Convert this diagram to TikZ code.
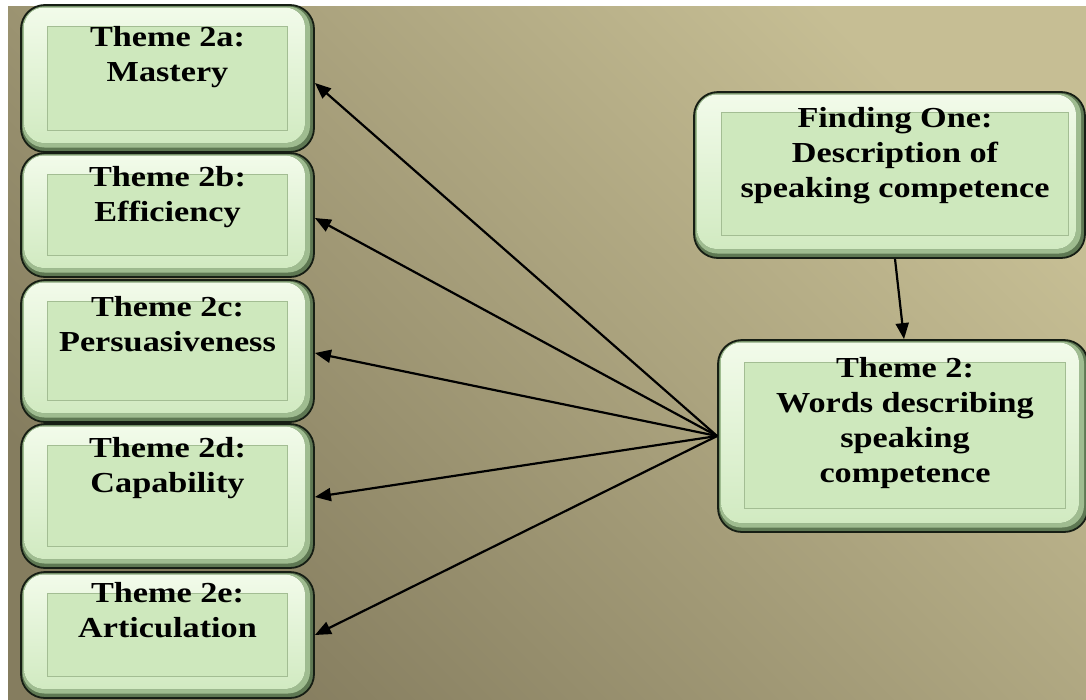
\documentclass[tikz,border=0pt]{standalone}
\usepackage{fontspec}
\newfontfamily\boxfont[FakeStretch=1.18]{Liberation Serif}
\usetikzlibrary{calc,arrows.meta}
\definecolor{bgLight}{HTML}{C6BE94}
\definecolor{bgDark}{HTML}{857D5F}
\definecolor{boxEdge}{HTML}{161E14}
\definecolor{bevDark}{HTML}{5E7853}
\definecolor{bevMid}{HTML}{9FBC90}
\definecolor{bevTop}{HTML}{F2FBEA}
\definecolor{boxFill}{HTML}{D1EAC1}
\definecolor{innerFill}{HTML}{CEE8BD}
\definecolor{innerLine}{HTML}{A3BD93}
\begin{document}
\begin{tikzpicture}[x=1pt,y=-1pt,
  gbox/.style={draw=boxEdge, line width=1.8pt, rounded corners=24pt, fill=bevDark, inner sep=0pt,
    path picture={
      \fill[bevMid, rounded corners=22pt] ($(path picture bounding box.north west)+(1.5,1.5)$) rectangle ($(path picture bounding box.south east)+(-4,-4.5)$);
      \fill[rounded corners=20pt, top color=bevTop, bottom color=boxFill] ($(path picture bounding box.north west)+(3,2.5)$) rectangle ($(path picture bounding box.south east)+(-9,-9)$);
    }},
  innerbox/.style={fill=innerFill, draw=innerLine, line width=0.9pt},
  txt/.style={font=\boxfont\bfseries\fontsize{29}{35}\selectfont, align=center, inner sep=0pt, anchor=north, text=black},
  arr/.style={draw=black, line width=2.2pt, -{Triangle[length=16pt,width=13pt]}}
]
\useasboundingbox (0,0) rectangle (1086,699);
\shade[top color=bgLight, bottom color=bgDark, shading angle=-45] (8,6) rectangle (1086,699);

% left boxes
\node[gbox, minimum width=293pt, minimum height=147pt] (b2a) at (167.5,78.5) {};
\node[gbox, minimum width=293pt, minimum height=124pt] (b2b) at (167.5,215) {};
\node[gbox, minimum width=293pt, minimum height=142pt] (b2c) at (167.5,351) {};
\node[gbox, minimum width=293pt, minimum height=144pt] (b2d) at (167.5,496) {};
\node[gbox, minimum width=293pt, minimum height=126pt] (b2e) at (167.5,635) {};
% right boxes
\node[gbox, minimum width=391pt, minimum height=166pt] (f1) at (889.5,175) {};
\node[gbox, minimum width=370pt, minimum height=192pt] (t2) at (903,436) {};

% inner panels
\foreach \b in {b2a,b2b,b2c,b2d,b2e}{
  \draw[innerbox] ($(\b.north west)+(27,22)$) rectangle ($(\b.south east)+(-27,-22)$);
}
\draw[innerbox] ($(f1.north west)+(28,21)$) rectangle ($(f1.south east)+(-17,-23)$);
\draw[innerbox] ($(t2.north west)+(27,23)$) rectangle ($(t2.south east)+(-23,-24)$);

% texts
\node[txt] (t2a) at (167.5,26.5) {Theme 2a:\\Mastery};
\node[txt] (t2b) at (167.5,166.5) {Theme 2b:\\Efficiency};
\node[txt] (t2c) at (167.5,296.5) {Theme 2c:\\Persuasiveness};
\node[txt] (t2d) at (167.5,437.5) {Theme 2d:\\Capability};
\node[txt] (t2e) at (167.5,582.5) {Theme 2e:\\Articulation};
\node[txt] (tf1) at (895,107.5) {Finding One:\\Description of\\speaking competence};
\node[txt] (tt2) at (905,357.5) {Theme 2:\\Words describing\\speaking\\competence};

% arrows
\draw[arr] ($(f1.south)+(5.5,0)$) -- ($(t2.north)+(1,0)$);
\coordinate (hub) at (t2.west);
\draw[arr] (hub) -- ($(b2a.east)+(0,4.5)$);
\draw[arr] (hub) -- ($(b2b.east)+(0,3)$);
\draw[arr] (hub) -- ($(b2c.east)+(0,2)$);
\draw[arr] (hub) -- ($(b2d.east)+(0,1)$);
\draw[arr] (hub) -- ($(b2e.east)+(0,0)$);
\end{tikzpicture}
\end{document}
